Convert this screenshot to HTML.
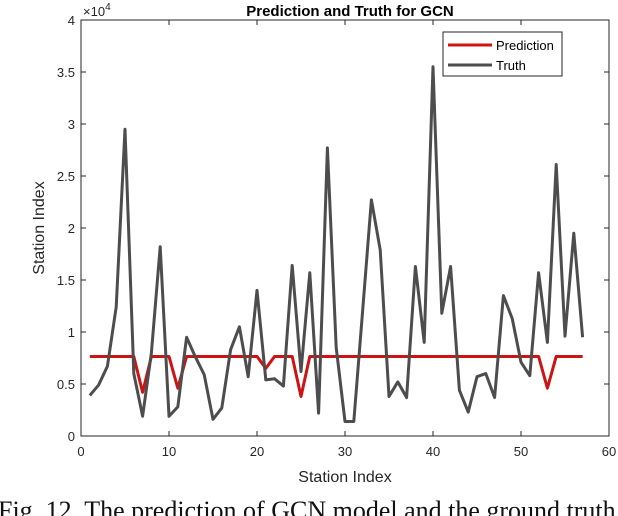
<!DOCTYPE html>
<html><head><meta charset="utf-8"><style>
html,body{margin:0;padding:0;background:#fff;width:618px;height:516px;overflow:hidden}
svg{display:block}
text{font-family:"Liberation Sans",sans-serif}
text.cap{font-family:"Liberation Serif",serif}
</style></head><body>
<svg id="chart" width="618" height="516">
<text x="350" y="16" text-anchor="middle" font-size="15" font-weight="bold" fill="#000">Prediction and Truth for GCN</text>
<text x="83" y="16" font-size="13" fill="#262626">×10<tspan dy="-6" font-size="10">4</tspan></text>
<text x="345" y="482" text-anchor="middle" font-size="16" fill="#262626">Station Index</text>
<text transform="translate(44,228) rotate(-90)" text-anchor="middle" font-size="16" fill="#262626">Station Index</text>
<text class="cap" x="-2" y="519" font-size="26" fill="#111">Fig. 12.  The prediction of GCN model and the ground truth</text>
<g id="axes"></g>
<g id="series"></g>
<g>
<rect x="443" y="32" width="119" height="44" fill="#fff" stroke="#262626" stroke-width="1"/>
<line x1="448" y1="45" x2="492" y2="45" stroke="#cc1414" stroke-width="3"/>
<text x="496" y="50" font-size="13" fill="#000">Prediction</text>
<line x1="448" y1="65" x2="492" y2="65" stroke="#4d4d4d" stroke-width="3"/>
<text x="496" y="70" font-size="13" fill="#000">Truth</text>
</g>
</svg>
<script>
const xTicks=[0,10,20,30,40,50,60];
const yTicks=[0,0.5,1,1.5,2,2.5,3,3.5,4];
const yTickLabels=["0","0.5","1","1.5","2","2.5","3","3.5","4"];
const truth=[0.39,0.49,0.67,1.24,2.95,0.6,0.19,0.8,1.82,0.19,0.28,0.95,0.76,0.59,0.16,0.27,0.83,1.05,0.57,1.40,0.54,0.55,0.48,1.64,0.62,1.57,0.22,2.77,0.85,0.14,0.14,1.2,2.27,1.79,0.38,0.52,0.37,1.63,0.90,3.55,1.18,1.63,0.44,0.23,0.57,0.6,0.37,1.35,1.13,0.71,0.58,1.57,0.9,2.61,0.96,1.95,0.95];
const prediction=[0.765,0.765,0.765,0.765,0.765,0.765,0.42,0.765,0.765,0.765,0.46,0.765,0.765,0.765,0.765,0.765,0.765,0.765,0.765,0.765,0.65,0.765,0.765,0.765,0.38,0.765,0.765,0.765,0.765,0.765,0.765,0.765,0.765,0.765,0.765,0.765,0.765,0.765,0.765,0.765,0.765,0.765,0.765,0.765,0.765,0.765,0.765,0.765,0.765,0.765,0.765,0.765,0.46,0.765,0.765,0.765,0.765];
const L=81,R=609,T=20,B=436;
const sx=v=>L+(v-0)/(60-0)*(R-L);
const sy=v=>B-(v-0)/(4-0)*(B-T);
const NS="http://www.w3.org/2000/svg";
const axes=document.getElementById('axes');
function mk(tag,attrs,parent){const e=document.createElementNS(NS,tag);for(const k in attrs)e.setAttribute(k,attrs[k]);parent.appendChild(e);return e;}
xTicks.forEach(t=>{
  const l=mk('line',{x1:sx(t),x2:sx(t),y1:B,y2:B-5,stroke:'#262626'},axes);
  
  
  const l2=mk('line',{x1:sx(t),x2:sx(t),y1:T,y2:T+5,stroke:'#262626'},axes);
  
  
  const tx=mk('text',{x:sx(t),y:B+20,'text-anchor':'middle','font-size':'13',fill:'#262626'},axes);
  tx.textContent=t;
  
  
});
yTicks.forEach((t,i)=>{
  const l=mk('line',{x1:L,x2:L+5,y1:sy(t),y2:sy(t),stroke:'#262626'},axes);
  
  
  const l2=mk('line',{x1:R,x2:R-5,y1:sy(t),y2:sy(t),stroke:'#262626'},axes);
  
  
  const tx=mk('text',{x:L-6,y:sy(t)+5,'text-anchor':'end','font-size':'13',fill:'#262626'},axes);
  tx.textContent=yTickLabels[i];
  
  
});
const box=mk('rect',{x:L,y:T,width:R-L,height:B-T,fill:'none',stroke:'#262626','stroke-width':1},axes);


const series=document.getElementById('series');
function pts(arr){return arr.map((v,i)=>sx(i+1)+','+sy(v)).join(' ');}
const p=mk('polyline',{points:pts(prediction),fill:'none',stroke:'#cc1414','stroke-width':3,'stroke-linejoin':'round'},series);


const tr=mk('polyline',{points:pts(truth),fill:'none',stroke:'#4d4d4d','stroke-width':3,'stroke-linejoin':'round'},series);


</script>
</body></html>
